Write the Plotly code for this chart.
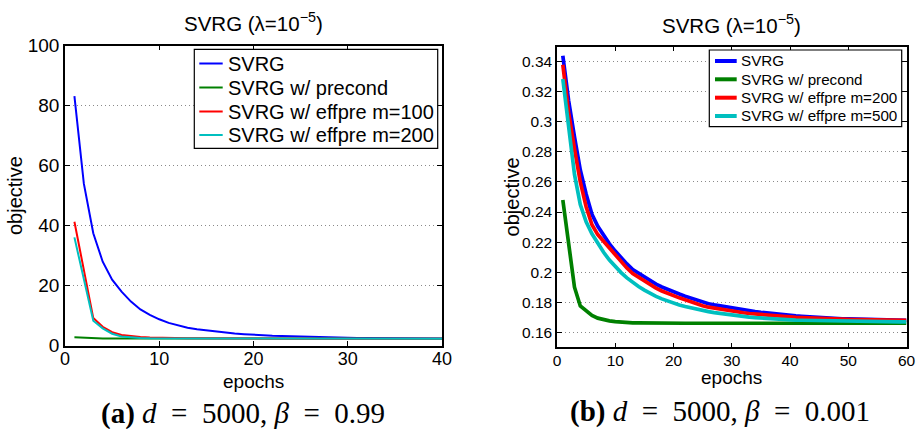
import plotly.graph_objects as go

# ---------------- data ----------------
LEFT_EPOCHS = list(range(1, 41))
LEFT_SVRG = [83.2, 54.0, 37.5, 28.0, 22.0, 18.0, 14.7, 12.1, 10.3, 8.8,
             7.6, 6.7, 6.0, 5.5, 5.1, 4.7, 4.4, 4.1, 3.85, 3.6,
             3.45, 3.3, 3.2, 3.1, 3.0, 2.9, 2.82, 2.75, 2.7, 2.65,
             2.6, 2.56, 2.52, 2.49, 2.46, 2.44, 2.42, 2.4, 2.38, 2.37]
LEFT_PRECOND = [2.8, 2.6, 2.45, 2.42, 2.4, 2.39, 2.38, 2.37, 2.37, 2.36,
                2.36, 2.36, 2.36, 2.36, 2.36, 2.36, 2.36, 2.36, 2.36, 2.36,
                2.35, 2.35, 2.35, 2.35, 2.35, 2.35, 2.35, 2.35, 2.35, 2.35,
                2.35, 2.35, 2.35, 2.35, 2.35, 2.35, 2.35, 2.35, 2.35, 2.35]
LEFT_EFF100 = [41.3, 25.2, 9.2, 6.3, 4.5, 3.6, 3.2, 2.9, 2.75, 2.62,
               2.55, 2.5, 2.47, 2.45, 2.43, 2.42, 2.41, 2.4, 2.39, 2.38,
               2.38, 2.37, 2.37, 2.37, 2.36, 2.36, 2.36, 2.36, 2.36, 2.36,
               2.35, 2.35, 2.35, 2.35, 2.35, 2.35, 2.35, 2.35, 2.35, 2.35]
LEFT_EFF200 = [36.1, 22.2, 8.3, 5.8, 4.0, 3.1, 2.8, 2.6, 2.5, 2.45,
               2.42, 2.4, 2.39, 2.38, 2.37, 2.37, 2.36, 2.36, 2.36, 2.36,
               2.36, 2.36, 2.35, 2.35, 2.35, 2.35, 2.35, 2.35, 2.35, 2.35,
               2.35, 2.35, 2.35, 2.35, 2.35, 2.35, 2.35, 2.35, 2.35, 2.35]

RIGHT_EPOCHS = list(range(1, 61))
RIGHT_SVRG = [0.344, 0.314, 0.290, 0.268, 0.252, 0.2385, 0.2305, 0.2245, 0.2188, 0.2140,
              0.2095, 0.2055, 0.2017, 0.1992, 0.1965, 0.1941, 0.1920, 0.1901, 0.1884, 0.1868,
              0.1854, 0.1840, 0.1826, 0.1812, 0.1800, 0.1790, 0.1782, 0.1775, 0.1768, 0.1761,
              0.1755, 0.1749, 0.1743, 0.1738, 0.1733, 0.1728, 0.1724, 0.1720, 0.1716, 0.1712,
              0.1709, 0.1706, 0.1703, 0.1700, 0.1698, 0.1696, 0.1694, 0.1692, 0.1690, 0.1689,
              0.1688, 0.1687, 0.1686, 0.1685, 0.1684, 0.1683, 0.1682, 0.1682, 0.1681, 0.1680]
RIGHT_PRECOND = [0.248, 0.219, 0.190, 0.1775, 0.1740, 0.1712, 0.1694, 0.1684, 0.1676, 0.1671,
                 0.1667, 0.1665, 0.1663, 0.1662, 0.1661, 0.1660, 0.1660, 0.1660, 0.1660, 0.1660,
                 0.1660, 0.1660, 0.1660, 0.1660, 0.1660, 0.1660, 0.1660, 0.1660, 0.1660, 0.1660,
                 0.1660, 0.1660, 0.1660, 0.1660, 0.1660, 0.1660, 0.1660, 0.1660, 0.1660, 0.1660,
                 0.1660, 0.1660, 0.1660, 0.1660, 0.1660, 0.1660, 0.1660, 0.1660, 0.1660, 0.1660,
                 0.1660, 0.1660, 0.1660, 0.1660, 0.1660, 0.1660, 0.1660, 0.1660, 0.1660, 0.1660]
RIGHT_EFF200 = [0.338, 0.306, 0.282, 0.260, 0.2435, 0.2315, 0.2250, 0.2205, 0.2153, 0.2108,
                0.2065, 0.2027, 0.1990, 0.1965, 0.1939, 0.1915, 0.1894, 0.1875, 0.1858, 0.1843,
                0.1829, 0.1816, 0.1802, 0.1789, 0.1777, 0.1767, 0.1760, 0.1753, 0.1746, 0.1740,
                0.1735, 0.1730, 0.1725, 0.1721, 0.1717, 0.1713, 0.1710, 0.1707, 0.1704, 0.1701,
                0.1699, 0.1697, 0.1695, 0.1693, 0.1691, 0.1689, 0.1688, 0.1687, 0.1686, 0.1685,
                0.1684, 0.1684, 0.1683, 0.1683, 0.1682, 0.1682, 0.1681, 0.1681, 0.1680, 0.1680]
RIGHT_EFF500 = [0.3285, 0.295, 0.265, 0.245, 0.2335, 0.2255, 0.2190, 0.2132, 0.2080, 0.2036,
                0.1997, 0.1962, 0.1931, 0.1904, 0.1880, 0.1858, 0.1839, 0.1822, 0.1807, 0.1794,
                0.1782, 0.1771, 0.1761, 0.1752, 0.1744, 0.1737, 0.1731, 0.1725, 0.1719, 0.1714,
                0.1709, 0.1705, 0.1701, 0.1697, 0.1694, 0.1691, 0.1689, 0.1687, 0.1685, 0.1683,
                0.1681, 0.1680, 0.1679, 0.1678, 0.1677, 0.1676, 0.1675, 0.1674, 0.1673, 0.1672,
                0.1672, 0.1671, 0.1671, 0.1670, 0.1670, 0.1670, 0.1669, 0.1669, 0.1669, 0.1669]

LEFT_NAMES = ["SVRG", "SVRG w/ precond", "SVRG w/ effpre m=100", "SVRG w/ effpre m=200"]
RIGHT_NAMES = ["SVRG", "SVRG w/ precond", "SVRG w/ effpre m=200", "SVRG w/ effpre m=500"]
COLORS = ["#0000ff", "#008000", "#ff0000", "#00bfbf"]

LEFT_XTICKS = [0, 10, 20, 30, 40]
LEFT_YTICKS = [0, 20, 40, 60, 80, 100]
RIGHT_XTICKS = [0, 10, 20, 30, 40, 50, 60]
RIGHT_YTICKS = [0.16, 0.18, 0.20, 0.22, 0.24, 0.26, 0.28, 0.30, 0.32, 0.34]
RIGHT_YLABELS = ["0.16", "0.18", "0.2", "0.22", "0.24", "0.26", "0.28", "0.3", "0.32", "0.34"]

TITLE = "SVRG (λ=10<sup>−5</sup>)"
CAPTION_A = "<b>(a)</b> <i>d</i>\u2002=\u20025000, <i>β</i>\u2002=\u20020.99"
CAPTION_B = "<b>(b)</b> <i>d</i>\u2002=\u20025000, <i>β</i>\u2002=\u20020.001"

# ---------------- figure ----------------
W, H = 918, 429
FONT = "Liberation Sans"
SERIF = "Liberation Serif"
fig = go.Figure()

for name, ys, c in zip(LEFT_NAMES, [LEFT_SVRG, LEFT_PRECOND, LEFT_EFF100, LEFT_EFF200], COLORS):
    fig.add_trace(go.Scatter(x=LEFT_EPOCHS, y=ys, mode="lines", name=name,
                             line=dict(color=c, width=2), xaxis="x", yaxis="y",
                             showlegend=False))
for name, ys, c in zip(RIGHT_NAMES, [RIGHT_SVRG, RIGHT_PRECOND, RIGHT_EFF200, RIGHT_EFF500], COLORS):
    fig.add_trace(go.Scatter(x=RIGHT_EPOCHS, y=ys, mode="lines", name=name,
                             line=dict(color=c, width=3.7), xaxis="x2", yaxis="y2",
                             showlegend=False))


def px_x(p):
    return p / W


def px_y(p):
    return 1 - p / H


axis_common = dict(showline=True, linecolor="black", linewidth=1.5, mirror="ticks",
                   ticks="inside", ticklen=5, tickcolor="black", tickwidth=1,
                   zeroline=False, automargin=False)

fig.update_layout(
    width=W, height=H,
    margin=dict(l=0, r=0, t=0, b=0),
    paper_bgcolor="white", plot_bgcolor="white",
    font=dict(family=FONT, color="black"),
    showlegend=False,
    xaxis=dict(domain=[px_x(65), px_x(442)], range=[0, 40], tickvals=LEFT_XTICKS,
               showgrid=False, tickfont=dict(size=18, family=FONT), anchor="y",
               ticklabelstandoff=-4, **axis_common),
    yaxis=dict(domain=[px_y(345.7), px_y(45.7)], range=[0, 100], tickvals=LEFT_YTICKS,
               showgrid=True, gridcolor="#8a8a8a", griddash="1px,3px", gridwidth=1,
               tickfont=dict(size=19, family=FONT), anchor="x", **axis_common),
    xaxis2=dict(domain=[px_x(557), px_x(906.5)], range=[0, 60], tickvals=RIGHT_XTICKS,
                showgrid=False, tickfont=dict(size=15.5, family=FONT), anchor="y2",
                ticklabelstandoff=-2, **axis_common),
    yaxis2=dict(domain=[px_y(347.3), px_y(46.7)], range=[0.15, 0.35], tickvals=RIGHT_YTICKS,
                ticktext=RIGHT_YLABELS,
                showgrid=True, gridcolor="#8a8a8a", griddash="1px,3px", gridwidth=1,
                tickfont=dict(size=15.5, family=FONT), anchor="x2", **axis_common),
)

shapes = []
ann = []


def add_legend(box, rows, line_x, text_x, names, lw, fsize):
    x0, y0, x1, y1 = box
    shapes.append(dict(type="rect", xref="paper", yref="paper",
                       x0=px_x(x0), x1=px_x(x1), y0=px_y(y1), y1=px_y(y0),
                       line=dict(color="black", width=1.2), fillcolor="white", layer="above"))
    for name, c, ry in zip(names, COLORS, rows):
        shapes.append(dict(type="line", xref="paper", yref="paper",
                           x0=px_x(line_x[0]), x1=px_x(line_x[1]), y0=px_y(ry), y1=px_y(ry),
                           line=dict(color=c, width=lw), layer="above"))
        ann.append(dict(text=name, x=px_x(text_x), y=px_y(ry), xanchor="left",
                        font=dict(size=fsize, family=FONT)))


add_legend((194.3, 49.3, 437.7, 148.3), [63.5, 87.5, 111.5, 135], (199.3, 222.7), 225.5,
           LEFT_NAMES, 2, 20)
add_legend((709.3, 50, 901.7, 126.7), [61, 79.3, 97.7, 116], (715, 736.7), 739,
           RIGHT_NAMES, 4, 15.2)

ann.append(dict(text=TITLE, x=px_x(253.5), y=px_y(22), font=dict(size=20.5, family=FONT)))
ann.append(dict(text=TITLE, x=px_x(731.5), y=px_y(24), font=dict(size=20.5, family=FONT)))
ann.append(dict(text="objective", x=px_x(15), y=px_y(196), textangle=-90,
                font=dict(size=20, family=FONT)))
ann.append(dict(text="objective", x=px_x(511.7), y=px_y(196.7), textangle=-90,
                font=dict(size=20, family=FONT)))
ann.append(dict(text="epochs", x=px_x(253.5), y=px_y(381), font=dict(size=19, family=FONT)))
ann.append(dict(text="epochs", x=px_x(731.7), y=px_y(377.5), font=dict(size=19, family=FONT)))
ann.append(dict(text=CAPTION_A, x=px_x(243), y=px_y(413), font=dict(size=29, family=SERIF)))
ann.append(dict(text=CAPTION_B, x=px_x(720), y=px_y(411), font=dict(size=29, family=SERIF)))
for a in ann:
    a.setdefault("xanchor", "center")
    a.update(xref="paper", yref="paper", showarrow=False, yanchor="middle")
fig.update_layout(annotations=ann, shapes=shapes)

fig.write_html("out.html")
